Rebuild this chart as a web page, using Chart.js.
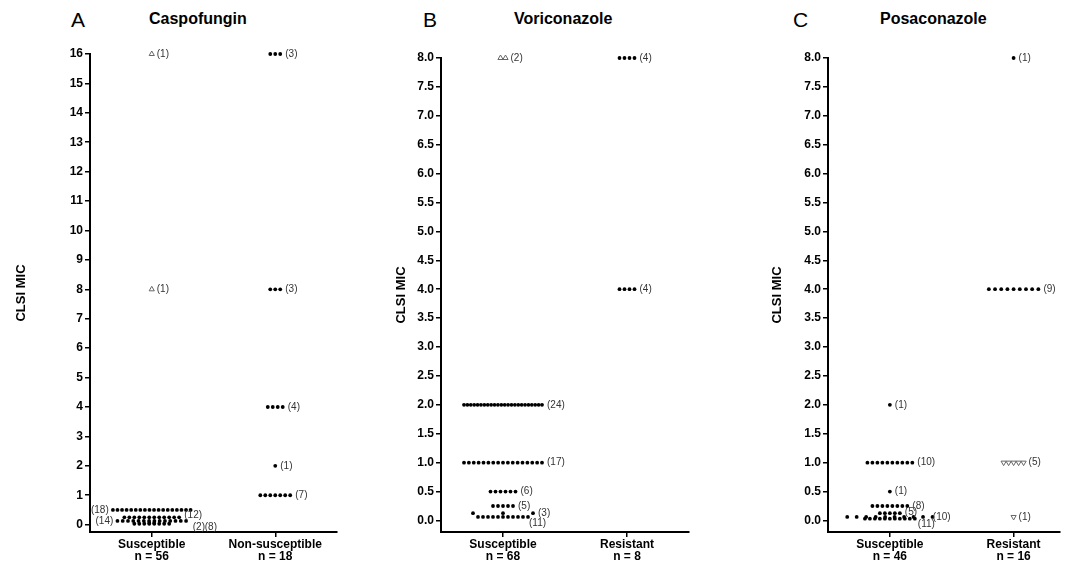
<!DOCTYPE html>
<html>
<head>
<meta charset="utf-8">
<script src="https://cdn.jsdelivr.net/npm/chart.js@4"></script>
<style>
  body { margin: 0; background: #fff; width: 1068px; height: 568px; position: relative; overflow: hidden;
         font-family: "Liberation Sans", Arial, sans-serif; color: #000; }
  canvas { position: absolute; top: 0; }
  .letter { position: absolute; top: 9px; font-size: 21px; line-height: 21px; }
  .title { position: absolute; top: 11px; font-size: 16px; line-height: 16px; font-weight: bold; }
</style>
</head>
<body>
<div class="letter" style="left:71px">A</div>
<div class="title" style="left:149px">Caspofungin</div>
<div class="letter" style="left:423px">B</div>
<div class="title" style="left:514px">Voriconazole</div>
<div class="letter" style="left:793px">C</div>
<div class="title" style="left:880px">Posaconazole</div>

<canvas id="capChart" width="356" height="568" style="left:0px"></canvas>
<canvas id="vorChart" width="356" height="568" style="left:356px"></canvas>
<canvas id="posChart" width="356" height="568" style="left:712px"></canvas>

<script>
// A - Caspofungin
const capCategories = ['Susceptible', 'Non-susceptible'];
const capN = [56, 18];
const capTicks = [0, 1, 2, 3, 4, 5, 6, 7, 8, 9, 10, 11, 12, 13, 14, 15, 16];
const capSusMic = [0.5, 0.25, 0.125, 0.06, 0.03];
const capSusCount = [18, 12, 14, 2, 8];
const capSusOutMic = [16, 8];      // open triangles
const capSusOutCount = [1, 1];
const capNonMic = [16, 8, 4, 2, 1];
const capNonCount = [3, 3, 4, 1, 7];

// B - Voriconazole
const vorCategories = ['Susceptible', 'Resistant'];
const vorN = [68, 8];
const vorTicks = [0, 0.5, 1, 1.5, 2, 2.5, 3, 3.5, 4, 4.5, 5, 5.5, 6, 6.5, 7, 7.5, 8];
const vorSusMic = [2, 1, 0.5, 0.25, 0.125, 0.06];
const vorSusCount = [24, 17, 6, 5, 3, 11];
const vorSusOutMic = [8];
const vorSusOutCount = [2];
const vorResMic = [8, 4];
const vorResCount = [4, 4];

// C - Posaconazole
const posCategories = ['Susceptible', 'Resistant'];
const posN = [46, 16];
const posTicks = [0, 0.5, 1, 1.5, 2, 2.5, 3, 3.5, 4, 4.5, 5, 5.5, 6, 6.5, 7, 7.5, 8];
const posSusMic = [2, 1, 0.5, 0.25, 0.125, 0.06, 0.03];
const posSusCount = [1, 10, 1, 8, 5, 10, 11];
const posResMic = [8, 4];
const posResCount = [1, 9];
const posResDownMic = [1, 0.06];   // open down triangles
const posResDownCount = [5, 1];

const PX_PER_UNIT = 62;   // x scale pixels per unit (chart areas are ~248px / 4)
const DOT_GAP = 5;
const MAX_SPAN = 78;
const FONT = '"Liberation Sans", Arial, sans-serif';

const panels = [
  {
    id: 'capChart', cats: capCategories, n: capN, ticks: capTicks, decimals: 0,
    yMin: -0.25, yMax: 16, xMax: 4, yWidth: 90, titlePad: 14, padTop: 54, padRight: 19,
    groups: [
      { cat: 1, mic: capSusMic, count: capSusCount, mark: 'dot' },
      { cat: 1, mic: capSusOutMic, count: capSusOutCount, mark: 'up' },
      { cat: 3, mic: capNonMic, count: capNonCount, mark: 'dot' }
    ],
    tweaks: {
      '1:0.5': { side: 'left' },
      '1:0.125': { side: 'left', gap: 5.3 },
      '1:0.25': { dy: -2 },
      '1:0.06': { x: 41, dy: 4 },
      '1:0.03': { x: 53, dy: 3 }
    }
  },
  {
    id: 'vorChart', cats: vorCategories, n: vorN, ticks: vorTicks, decimals: 1,
    yMin: -0.2, yMax: 8, xMax: 4, yWidth: 85, titlePad: 38, padTop: 58, padRight: 23,
    groups: [
      { cat: 1, mic: vorSusMic, count: vorSusCount, mark: 'dot' },
      { cat: 1, mic: vorSusOutMic, count: vorSusOutCount, mark: 'up' },
      { cat: 3, mic: vorResMic, count: vorResCount, mark: 'dot' }
    ],
    tweaks: {
      '1:0.125': { gap: 30 },
      '1:0.06': { x: 26, dy: 6 }
    }
  },
  {
    id: 'posChart', cats: posCategories, n: posN, ticks: posTicks, decimals: 1,
    yMin: -0.2, yMax: 8, xMax: 3.75, yWidth: 116, titlePad: 58, padTop: 58, padRight: 8,
    groups: [
      { cat: 1, mic: posSusMic, count: posSusCount, mark: 'dot' },
      { cat: 3, mic: posResMic, count: posResCount, mark: 'dot' },
      { cat: 3, mic: posResDownMic, count: posResDownCount, mark: 'down' }
    ],
    tweaks: {
      '1:0.125': { dy: -1 },
      '1:0.06': { gap: 9.5, x: 43 },
      '1:0.03': { x: 28, dy: 6 },
      '3:4': { gap: 6.2 }
    }
  }
];

const markStyle = {
  dot: { pointStyle: 'circle', pointRadius: 1.9, pointBackgroundColor: '#000', pointBorderWidth: 0, rotation: 0 },
  up: { pointStyle: 'triangle', pointRadius: 3, pointBackgroundColor: '#fff', pointBorderColor: '#666', pointBorderWidth: 1, rotation: 0 },
  down: { pointStyle: 'triangle', pointRadius: 3, pointBackgroundColor: '#fff', pointBorderColor: '#666', pointBorderWidth: 1, rotation: 180 }
};

// draws the "(n)" count next to each row of points
const countLabels = {
  id: 'countLabels',
  afterDatasetsDraw(chart, args, opts) {
    const { ctx, scales: { x, y } } = chart;
    ctx.save();
    ctx.font = '10px ' + FONT;
    ctx.fillStyle = '#333';
    ctx.textBaseline = 'middle';
    opts.rows.forEach(r => {
      const cx = x.getPixelForValue(r.cat);
      const py = y.getPixelForValue(r.mic) + (r.tw.dy || 0);
      const half = (r.count - 1) / 2 * r.gap;
      const txt = '(' + r.count + ')';
      if (r.tw.side === 'left') {
        ctx.textAlign = 'right';
        ctx.fillText(txt, cx - half - 4, py);
      } else {
        ctx.textAlign = 'left';
        const lx = r.tw.x !== undefined ? cx + r.tw.x : cx + half + 5;
        ctx.fillText(txt, lx, py);
      }
    });
    ctx.restore();
  }
};

panels.forEach(p => {
  const rows = [];
  const datasets = p.groups.map(g => {
    const pts = [];
    g.mic.forEach((m, i) => {
      const c = g.count[i];
      const tw = p.tweaks[g.cat + ':' + m] || {};
      const gap = tw.gap || (c > 1 ? Math.min(DOT_GAP, MAX_SPAN / (c - 1)) : 0);
      for (let k = 0; k < c; k++) {
        pts.push({ x: g.cat + (k - (c - 1) / 2) * gap / PX_PER_UNIT, y: m });
      }
      rows.push({ cat: g.cat, mic: m, count: c, gap: gap, tw: tw });
    });
    return Object.assign({ data: pts, showLine: false, clip: false }, markStyle[g.mark]);
  });

  new Chart(document.getElementById(p.id), {
    type: 'scatter',
    data: { datasets: datasets },
    options: {
      responsive: false,
      animation: false,
      events: [],
      layout: { padding: { top: p.padTop, right: p.padRight, left: 0, bottom: 0 } },
      plugins: {
        legend: { display: false },
        tooltip: { enabled: false },
        countLabels: { rows: rows }
      },
      scales: {
        x: {
          type: 'linear', min: 0, max: p.xMax,
          afterBuildTicks: s => { s.ticks = [{ value: 1 }, { value: 3 }]; },
          afterFit: s => { s.height = 36; },
          ticks: {
            autoSkip: false, maxRotation: 0, padding: 2, color: '#000',
            font: { family: FONT, size: 12, weight: 'bold', lineHeight: 1 },
            callback: v => v === 1 ? [p.cats[0], 'n = ' + p.n[0]] : [p.cats[1], 'n = ' + p.n[1]]
          },
          grid: { drawOnChartArea: false, tickLength: 5, color: '#000', lineWidth: 1.5 },
          border: { color: '#000', width: 2 }
        },
        y: {
          type: 'linear', min: p.yMin, max: p.yMax,
          afterBuildTicks: s => { s.ticks = p.ticks.map(v => ({ value: v })); },
          afterFit: s => { s.width = p.yWidth; },
          ticks: {
            padding: 2, color: '#000',
            font: { family: FONT, size: 12, weight: 'bold' },
            callback: v => Number(v).toFixed(p.decimals)
          },
          title: {
            display: true, text: 'CLSI MIC', color: '#000',
            font: { family: FONT, size: 13, weight: 'bold' },
            padding: { top: p.titlePad, bottom: 0 }
          },
          grid: { drawOnChartArea: false, tickLength: 5, color: '#000', lineWidth: 1.5 },
          border: { color: '#000', width: 2 }
        }
      }
    },
    plugins: [countLabels]
  });
});
</script>
</body>
</html>
